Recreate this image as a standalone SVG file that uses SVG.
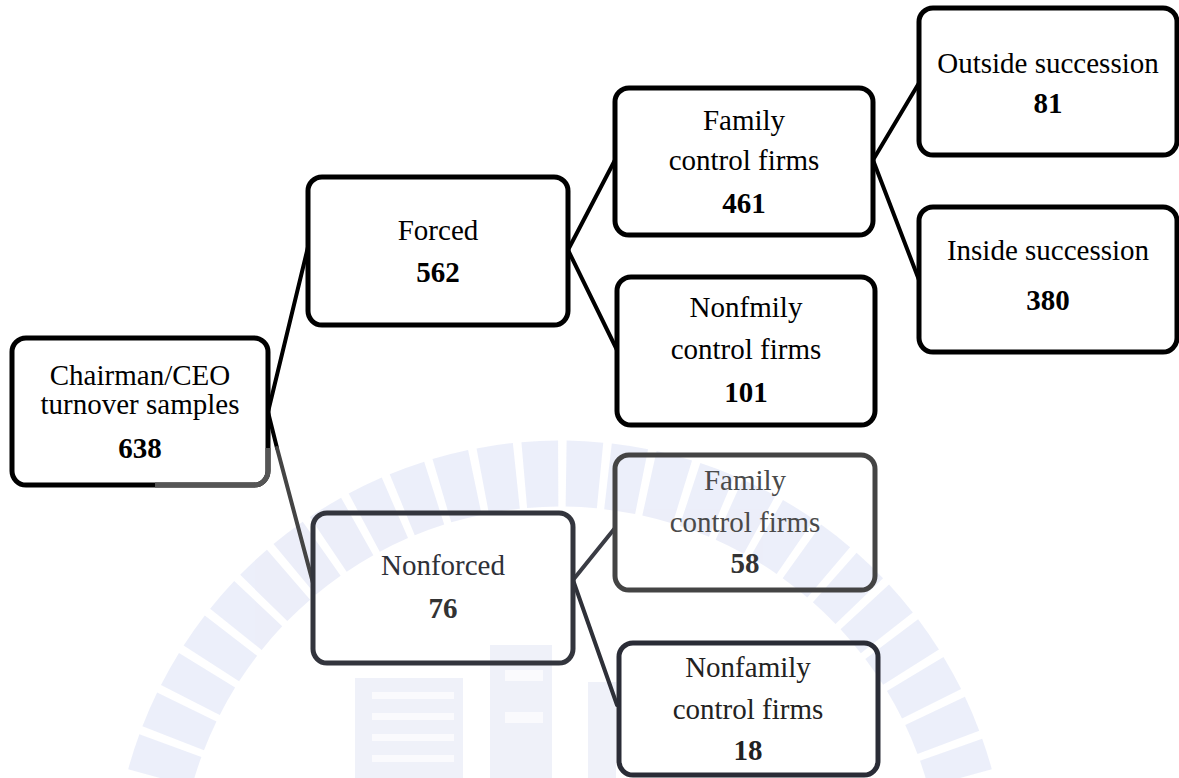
<svg xmlns="http://www.w3.org/2000/svg" width="1179" height="778" viewBox="0 0 1179 778">
<style>
  .box{fill:none;stroke:#000;stroke-width:5}
  .t{font-family:'Liberation Serif','Times New Roman','DejaVu Serif',serif;font-size:29px;text-anchor:middle;fill:#000}
  .n{font-weight:bold}
  .c{stroke:#000;stroke-width:4;stroke-linecap:round;fill:none}
  .wm{fill:#e6e8f6}
</style>
<rect width="1179" height="778" fill="#fff"/>
<g id="watermark" opacity="0.6">
  <path d="M160,778 A415,415 0 0 1 960,778" fill="none" stroke="#e0e4f6" stroke-width="66" stroke-dasharray="34 8"/>
  <rect class="wm" x="355" y="678" width="108" height="100"/>
  <g fill="#f7f8fc">
    <rect x="372" y="692" width="82" height="7"/>
    <rect x="372" y="713" width="82" height="7"/>
    <rect x="372" y="734" width="82" height="7"/>
    <rect x="372" y="755" width="82" height="7"/>
  </g>
  <rect class="wm" x="490" y="645" width="62" height="133"/>
  <rect fill="#f7f8fc" x="505" y="670" width="38" height="11"/>
  <rect fill="#f7f8fc" x="505" y="712" width="38" height="11"/>
  <rect class="wm" x="588" y="682" width="28" height="96"/>
</g>
<g id="connectors">
  <line class="c" x1="268" y1="412" x2="308" y2="247"/>
  <line class="c" x1="268" y1="412" x2="277" y2="448"/>
  <line class="c" x1="277" y1="448" x2="313" y2="583" style="stroke:#444"/>
  <line class="c" x1="568" y1="250" x2="615" y2="160"/>
  <line class="c" x1="568" y1="250" x2="617" y2="350"/>
  <line class="c" x1="873" y1="160" x2="919" y2="83"/>
  <line class="c" x1="873" y1="160" x2="919" y2="280"/>
  <line class="c" x1="573" y1="580" x2="615" y2="528" style="stroke:#3a3c44"/>
  <line class="c" x1="573" y1="580" x2="617" y2="705" style="stroke:#2e3038"/>
</g>
<g id="root">
  <rect class="box" x="12" y="338" width="256" height="147" rx="14"/>
  <path d="M155,485 H254 A14,14 0 0 0 268,471 V448" fill="none" stroke="#555" stroke-width="5"/>
  <text class="t" x="140" y="385">Chairman/CEO</text>
  <text class="t" x="140" y="414">turnover samples</text>
  <text class="t n" x="140" y="458">638</text>
</g>
<g id="forced">
  <rect class="box" x="308" y="177" width="260" height="148" rx="14"/>
  <text class="t" x="438" y="240">Forced</text>
  <text class="t n" x="438" y="282">562</text>
</g>
<g id="family-forced">
  <rect class="box" x="615" y="88" width="258" height="147" rx="14"/>
  <text class="t" x="744" y="130">Family</text>
  <text class="t" x="744" y="170">control firms</text>
  <text class="t n" x="744" y="213">461</text>
</g>
<g id="nonfamily-forced">
  <rect class="box" x="617" y="277" width="258" height="148" rx="14"/>
  <text class="t" x="746" y="317">Nonfmily</text>
  <text class="t" x="746" y="359">control firms</text>
  <text class="t n" x="746" y="402">101</text>
</g>
<g id="outside">
  <rect class="box" x="919" y="8" width="258" height="147" rx="14"/>
  <text class="t" x="1048" y="73">Outside succession</text>
  <text class="t n" x="1048" y="113">81</text>
</g>
<g id="inside">
  <rect class="box" x="919" y="207" width="258" height="145" rx="14"/>
  <text class="t" x="1048" y="260">Inside succession</text>
  <text class="t n" x="1048" y="310">380</text>
</g>
<g id="nonforced">
  <rect class="box" x="313" y="513" width="260" height="150" rx="14" style="stroke:#33353d"/>
  <text class="t" x="443" y="575" style="fill:#2e3038">Nonforced</text>
  <text class="t n" x="443" y="618" style="fill:#333">76</text>
</g>
<g id="family-nonforced">
  <rect class="box" x="615" y="455" width="260" height="135" rx="14" style="stroke:#444"/>
  <text class="t" x="745" y="490" style="fill:#4a4a4a">Family</text>
  <text class="t" x="745" y="532" style="fill:#4a4a4a">control firms</text>
  <text class="t n" x="745" y="573" style="fill:#333">58</text>
</g>
<g id="nonfamily-nonforced">
  <rect class="box" x="619" y="643" width="259" height="132" rx="14" style="stroke:#2a2c36"/>
  <text class="t" x="748" y="677" style="fill:#222">Nonfamily</text>
  <text class="t" x="748" y="719" style="fill:#222">control firms</text>
  <text class="t n" x="748" y="760" style="fill:#222">18</text>
</g>
</svg>
